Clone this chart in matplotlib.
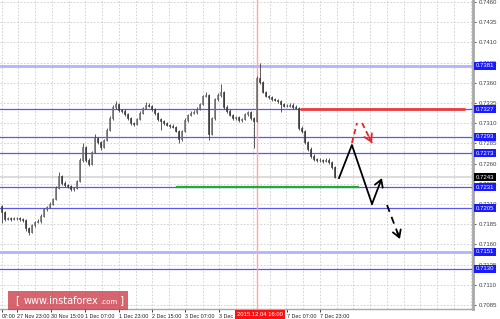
import matplotlib
matplotlib.use("Agg")
import matplotlib.pyplot as plt
from matplotlib.patches import FancyBboxPatch
import matplotlib.transforms as mtransforms

plt.rcParams["font.family"] = ["Liberation Sans", "DejaVu Sans"]

# ---------------- data ----------------
first_open = 0.72075
closes = [0.72000, 0.71914, 0.71926, 0.71914, 0.71926, 0.71926, 0.71914, 0.71901, 0.71802, 0.71753,
          0.71839, 0.71877, 0.71889, 0.71951, 0.72038, 0.72062, 0.72100, 0.72161, 0.72298, 0.72446,
          0.72360, 0.72335, 0.72322, 0.72285, 0.72298, 0.72384, 0.72644, 0.72805, 0.72644, 0.72595,
          0.72743, 0.72917, 0.72867, 0.72805, 0.72892, 0.73016, 0.73164, 0.73300, 0.73338, 0.73263,
          0.73251, 0.73214, 0.73164, 0.73102, 0.73090, 0.73152, 0.73226, 0.73288, 0.73325, 0.73313,
          0.73276, 0.73226, 0.73152, 0.73127, 0.73102, 0.73078, 0.73065, 0.73053, 0.73003, 0.72904,
          0.73003, 0.73139, 0.73201, 0.73226, 0.73238, 0.73276, 0.73338, 0.73437, 0.73449, 0.72966,
          0.73164, 0.73399, 0.73449, 0.73486, 0.73300, 0.73251, 0.73201, 0.73164, 0.73177, 0.73139,
          0.73152, 0.73214, 0.73238, 0.73164, 0.73127, 0.73659, 0.73610, 0.73486, 0.73437, 0.73424,
          0.73399, 0.73387, 0.73375, 0.73338, 0.73313, 0.73313, 0.73325, 0.73300, 0.73288, 0.73040,
          0.73003, 0.72867, 0.72780, 0.72694, 0.72657, 0.72644, 0.72644, 0.72632, 0.72644, 0.72619,
          0.72558, 0.72430]
highs = [0.72090, 0.72015, 0.71945, 0.71940, 0.71945, 0.71945, 0.71940, 0.71930, 0.71915, 0.71815,
         0.71855, 0.71895, 0.71910, 0.71970, 0.72055, 0.72080, 0.72120, 0.72180, 0.72320, 0.72495,
         0.72460, 0.72380, 0.72350, 0.72340, 0.72315, 0.72400, 0.72665, 0.72855, 0.72820, 0.72665,
         0.72760, 0.72967, 0.72935, 0.72885, 0.72910, 0.73035, 0.73185, 0.73320, 0.73375, 0.73355,
         0.73280, 0.73270, 0.73230, 0.73180, 0.73120, 0.73170, 0.73245, 0.73305, 0.73362, 0.73345,
         0.73330, 0.73290, 0.73240, 0.73170, 0.73145, 0.73120, 0.73095, 0.73085, 0.73070, 0.73020,
         0.73020, 0.73160, 0.73220, 0.73245, 0.73260, 0.73295, 0.73355, 0.73455, 0.73486, 0.73465,
         0.73180, 0.73415, 0.73470, 0.73585, 0.73500, 0.73320, 0.73270, 0.73220, 0.73195, 0.73195,
         0.73170, 0.73230, 0.73255, 0.73255, 0.73180, 0.73684, 0.73845, 0.73625, 0.73500, 0.73455,
         0.73440, 0.73415, 0.73400, 0.73390, 0.73355, 0.73335, 0.73345, 0.73345, 0.73320, 0.73305,
         0.73060, 0.73020, 0.72885, 0.72800, 0.72715, 0.72675, 0.72665, 0.72660, 0.72665, 0.72665,
         0.72635, 0.72575]
lows = [0.71870, 0.71895, 0.71900, 0.71895, 0.71900, 0.71905, 0.71895, 0.71880, 0.71765, 0.71716,
        0.71735, 0.71820, 0.71860, 0.71870, 0.71935, 0.72015, 0.72045, 0.72085, 0.72145, 0.72280,
        0.72340, 0.72315, 0.72300, 0.72265, 0.72260, 0.72280, 0.72370, 0.72625, 0.72620, 0.72570,
        0.72580, 0.72725, 0.72845, 0.72768, 0.72790, 0.72875, 0.73000, 0.73145, 0.73280, 0.73240,
        0.73230, 0.73195, 0.73145, 0.73080, 0.73070, 0.73075, 0.73135, 0.73210, 0.73270, 0.73295,
        0.73255, 0.73205, 0.73130, 0.73016, 0.73080, 0.73060, 0.73045, 0.73035, 0.72985, 0.72855,
        0.72885, 0.72985, 0.73120, 0.73185, 0.73210, 0.73220, 0.73260, 0.73320, 0.73420, 0.72892,
        0.72950, 0.73145, 0.73380, 0.73430, 0.73280, 0.73230, 0.73185, 0.73145, 0.73145, 0.73120,
        0.73120, 0.73135, 0.73195, 0.73145, 0.72793, 0.73110, 0.73590, 0.73470, 0.73420, 0.73405,
        0.73380, 0.73370, 0.73355, 0.73238, 0.73295, 0.73295, 0.73295, 0.73280, 0.73270, 0.73020,
        0.72980, 0.72845, 0.72760, 0.72675, 0.72635, 0.72620, 0.72620, 0.72610, 0.72615, 0.72600,
        0.72530, 0.72421]

level_blue = [0.7327, 0.7293, 0.7273, 0.7231, 0.7205, 0.7130]
level_light = [0.7381, 0.7151]
level_labels = [0.7381, 0.7327, 0.7293, 0.7273, 0.7231, 0.7205, 0.7151, 0.7130]
current_price = 0.7243
resistance_red = 0.7327
support_green = 0.7231

price_ticks = [0.7460, 0.7435, 0.7410, 0.7385, 0.7360, 0.7335, 0.7310, 0.7285, 0.7260,
               0.7235, 0.7210, 0.7185, 0.7160, 0.7135, 0.7110, 0.7085]
time_labels = ["07:00", "27 Nov 23:00", "30 Nov 15:00", "1 Dec 07:00", "1 Dec 23:00",
               "2 Dec 15:00", "3 Dec 07:00", "3 Dec 23:00", "4 Dec 15:00", "7 Dec 07:00",
               "7 Dec 23:00"]
time_label_pos = [0.7, 5.7, 17.0, 28.3, 39.6, 50.7, 61.7, 73.0, 84.3, 95.7, 106.7]
marker_label = "2015.12.04 16:00"
marker_bar = 85.5

# forecast scenario
fc_main_x = [113.0, 117.3, 124.0, 127.3]
fc_main_y = [0.72421, 0.72830, 0.72100, 0.72421]
fc_dash_x = [129.0, 133.3]
fc_dash_y = [0.72087, 0.71666]
fc_red_up_x = [117.3, 119.0]
fc_red_up_y = [0.72855, 0.73102]
fc_red_dn_x = [120.7, 124.0]
fc_red_dn_y = [0.73102, 0.72855]

# ---------------- figure ----------------
W, H = 500, 319
fig = plt.figure(figsize=(W / 100, H / 100), dpi=100)
fig.patch.set_facecolor("white")
ax = fig.add_axes([0, 10 / H, 473 / W, 309 / H])
ax.set_facecolor("white")
ax.set_xlim(0, 473 / 3)
ax.set_ylim(0.70800, 0.74625)

# grid
ax.set_yticks(price_ticks)
ax.set_yticklabels(["%.4f" % p for p in price_ticks])
for p in price_ticks:
    ax.axhline(p, color="#cccccc", lw=0.6, ls=(0, (2, 2)), zorder=0)
k = 0
while (1.5 + k * 16.75) / 3 < 473 / 3:
    ax.axvline((1.5 + k * 16.75) / 3, color="#cccccc", lw=0.6, ls=(0, (2, 2)), zorder=0)
    k += 1

ax.yaxis.tick_right()
ax.tick_params(axis="y", labelsize=4.3, colors="#404040", length=2, width=0.6, pad=2)
ax.set_xticks(time_label_pos)
ax.set_xticklabels(time_labels)
ax.tick_params(axis="x", labelsize=3.9, colors="#202020", length=2, width=0.6, pad=1.5)
for lab in ax.get_xticklabels():
    lab.set_ha("left")

for s in ["top", "left"]:
    ax.spines[s].set_visible(False)
ax.spines["right"].set_color("#a8a8a8")
ax.spines["right"].set_linewidth(2)
ax.spines["bottom"].set_color("#a8a8a8")
ax.spines["bottom"].set_linewidth(1)

# level lines
for p in level_light:
    ax.axhline(p, color="#b0b4ff", lw=2.0, zorder=1)
for p in level_blue:
    ax.axhline(p, color="#5a5aea", lw=0.9, zorder=1)
ax.axhline(current_price, color="#dcdcdc", lw=1.4, zorder=1)
ax.plot([59, 119.3], [support_green, support_green], color="#22aa33", lw=1.6, zorder=2)
ax.plot([100, 155], [resistance_red, resistance_red], color="#ee3a3a", lw=2.0, zorder=2,
        solid_capstyle="butt")
ax.axvline(marker_bar, color="#ffa8a8", lw=1.0, zorder=1)

# candles
opens = [first_open] + closes[:-1]
xs = [i + 0.5 for i in range(len(closes))]
ax.vlines(xs, lows, highs, color="#404040", lw=0.6, zorder=3)
for x, o, c in zip(xs, opens, closes):
    lo, hi = min(o, c), max(o, c)
    hgt = max(hi - lo, 0.00003)
    if c >= o:
        ax.bar(x, hgt, bottom=lo, width=0.55, color="#f0f0f0", edgecolor="#505050",
               linewidth=0.45, zorder=4)
    else:
        ax.bar(x, hgt, bottom=lo, width=0.55, color="#3a3a3a", edgecolor="#3a3a3a",
               linewidth=0.45, zorder=4)

# forecast
ax.plot(fc_main_x[:-1], fc_main_y[:-1], color="black", lw=1.3, zorder=6)
ax.annotate("", xy=(fc_main_x[-1], fc_main_y[-1]), xytext=(fc_main_x[-2], fc_main_y[-2]),
            arrowprops=dict(arrowstyle="->,head_length=0.5,head_width=0.3", color="black",
                            lw=1.3, shrinkA=0, shrinkB=0), zorder=6)
ax.plot(fc_dash_x, fc_dash_y, color="black", lw=1.3, ls=(0, (4, 3)), zorder=6)
ax.annotate("", xy=(fc_dash_x[1], fc_dash_y[1]),
            xytext=(fc_dash_x[0] + 0.8 * (fc_dash_x[1] - fc_dash_x[0]),
                    fc_dash_y[0] + 0.8 * (fc_dash_y[1] - fc_dash_y[0])),
            arrowprops=dict(arrowstyle="->,head_length=0.5,head_width=0.3", color="black",
                            lw=1.3, shrinkA=0, shrinkB=0), zorder=6)
ax.plot(fc_red_up_x, fc_red_up_y, color="#ee2222", lw=1.3, ls=(0, (3, 2)), zorder=6)
ax.plot(fc_red_dn_x, fc_red_dn_y, color="#ee2222", lw=1.3, ls=(0, (3, 2)), zorder=6)
ax.annotate("", xy=(fc_red_dn_x[1], fc_red_dn_y[1]),
            xytext=(fc_red_dn_x[0] + 0.7 * (fc_red_dn_x[1] - fc_red_dn_x[0]),
                    fc_red_dn_y[0] + 0.7 * (fc_red_dn_y[1] - fc_red_dn_y[0])),
            arrowprops=dict(arrowstyle="->,head_length=0.5,head_width=0.3", color="#ee2222",
                            lw=1.3, shrinkA=0, shrinkB=0), zorder=6)

# price labels on the right
trans = mtransforms.blended_transform_factory(ax.transAxes, ax.transData)
for p in level_labels:
    ax.text(1.006, p, "%.4f" % p, transform=trans, fontsize=4.3, color="white", ha="left",
            va="center", clip_on=False, zorder=10,
            bbox=dict(boxstyle="square,pad=0.25", fc="#1a1aff", ec="none"))
ax.text(1.006, current_price, "%.4f" % current_price, transform=trans, fontsize=4.3,
        color="white", ha="left", va="center", clip_on=False, zorder=10,
        bbox=dict(boxstyle="square,pad=0.25", fc="black", ec="none"))

# time marker label
fig.text(237 / W, 4.5 / H, marker_label, fontsize=4.2, color="white", ha="left", va="center",
         zorder=10, bbox=dict(boxstyle="square,pad=0.3", fc="#ff1010", ec="none"))

# watermark
box = FancyBboxPatch((8 / W, 9 / H), 120 / W, 19 / H, boxstyle="square,pad=0",
                     transform=fig.transFigure, fc="#cc3a48", ec="none", alpha=0.78,
                     zorder=20)
fig.patches.append(box)
fig.text(15 / W, 18.5 / H, "[", fontsize=7.5, color="white", ha="left", va="center",
         family="DejaVu Sans", zorder=21)
fig.text(24 / W, 18.5 / H, "www.instaforex", fontsize=7.0, color="white", ha="left",
         va="center", family="DejaVu Sans", zorder=21)
fig.text(100.5 / W, 17.5 / H, ".com", fontsize=5.0, color="white", ha="left", va="center",
         family="DejaVu Sans", zorder=21)
fig.text(120 / W, 18.5 / H, "]", fontsize=7.5, color="white", ha="left", va="center",
         family="DejaVu Sans", zorder=21)

fig.savefig("out.png", dpi=100, facecolor="white")
